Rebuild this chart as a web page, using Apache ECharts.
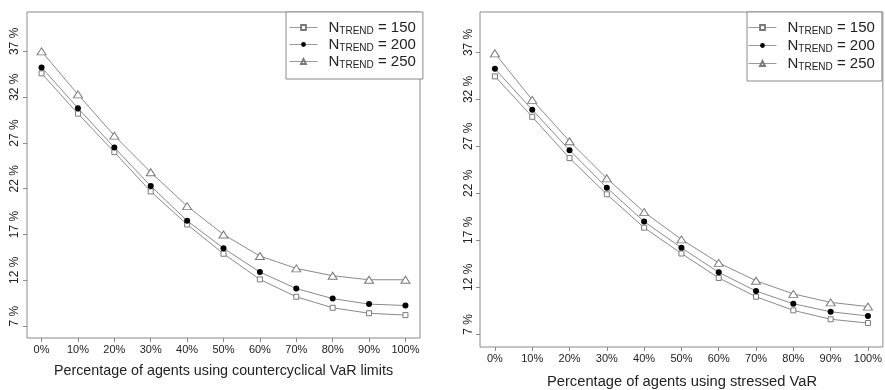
<!DOCTYPE html>
<html>
<head>
<meta charset="utf-8">
<script src="https://cdn.jsdelivr.net/npm/echarts@6/dist/echarts.min.js"></script>
<style>
  html, body { margin: 0; padding: 0; background: #fff; }
  #main { width: 885px; height: 390px; }
</style>
</head>
<body>
<div id="main"></div>
<script>
  // shares of agents (x) and tick labels
  var xPct = [0, 10, 20, 30, 40, 50, 60, 70, 80, 90, 100];
  var xTicks = [0, 10, 20, 30, 40, 50, 60, 70, 80, 90, 100];
  var yTicks = [7, 12, 17, 22, 27, 32, 37];
  var trendNames = ['150', '200', '250'];

  // left panel: countercyclical VaR limits
  var left150 = [34.6, 30.2, 26.0, 21.7, 18.1, 14.9, 12.1, 10.2, 9.0, 8.4, 8.2];
  var left200 = [35.25, 30.8, 26.5, 22.3, 18.5, 15.5, 12.9, 11.1, 10.0, 9.4, 9.25];
  var left250 = [37.0, 32.3, 27.8, 23.8, 20.1, 17.0, 14.65, 13.3, 12.5, 12.06, 12.06];

  // right panel: stressed VaR
  var right150 = [34.45, 30.15, 25.75, 21.9, 18.35, 15.6, 13.0, 11.0, 9.55, 8.6, 8.2];
  var right200 = [35.25, 30.9, 26.6, 22.6, 19.0, 16.2, 13.6, 11.6, 10.25, 9.4, 8.95];
  var right250 = [36.9, 31.95, 27.55, 23.6, 20.0, 17.1, 14.6, 12.7, 11.3, 10.4, 9.95];

  var GRAY = '#8a8a8a';
  var TXT = '#222';
  var FONT = '"Liberation Sans", Arial, sans-serif';

  function pairs(ys) {
    return xPct.map(function (x, i) { return [x, ys[i]]; });
  }

  var marks = {
    '150': {symbol: 'rect', symbolSize: 5, itemStyle: {color: '#fff', borderColor: '#7a7a7a', borderWidth: 1}},
    '200': {symbol: 'circle', symbolSize: 6, itemStyle: {color: '#000', borderColor: '#000', borderWidth: 0}},
    '250': {symbol: 'triangle', symbolSize: [9, 7], itemStyle: {color: '#fff', borderColor: '#7a7a7a', borderWidth: 1}}
  };

  function line(name, ys, idx) {
    var m = marks[name];
    return {
      name: name,
      type: 'line',
      xAxisIndex: idx,
      yAxisIndex: idx,
      data: pairs(ys),
      symbol: m.symbol,
      symbolSize: m.symbolSize,
      showSymbol: true,
      itemStyle: m.itemStyle,
      lineStyle: {color: GRAY, width: 1},
      animation: false,
      silent: true
    };
  }

  function xAxis(idx) {
    return {
      type: 'value',
      gridIndex: idx,
      min: -4,
      max: 104,
      splitLine: {show: false},
      axisLine: {show: false, onZero: false},
      axisTick: {show: true, inside: false, length: 4, lineStyle: {color: GRAY}, customValues: xTicks},
      axisLabel: {
        customValues: xTicks, margin: 6, color: TXT, fontSize: 11, fontFamily: FONT,
        formatter: function (v) { return v + '%'; }
      }
    };
  }

  function yAxis(idx, lo, hi, margin) {
    return {
      type: 'value',
      gridIndex: idx,
      min: lo,
      max: hi,
      splitLine: {show: false},
      axisLine: {show: false, onZero: false},
      axisTick: {show: true, inside: false, length: 4, lineStyle: {color: GRAY}, customValues: yTicks},
      axisLabel: {
        customValues: yTicks, rotate: 90, margin: margin, color: TXT, fontSize: 12, fontFamily: FONT,
        padding: [0, 0, 0, 20],
        formatter: function (v) { return v + ' %'; }
      }
    };
  }

  function axisTitle(text, cx, top, size) {
    return {
      text: text,
      left: cx,
      top: top,
      textAlign: 'center',
      padding: 0,
      textStyle: {color: TXT, fontSize: size, fontWeight: 'normal', fontFamily: FONT, lineHeight: 16}
    };
  }

  function legend(left, top, pad, gap) {
    return {
      data: trendNames,
      orient: 'vertical',
      left: left,
      top: top,
      padding: pad,
      itemGap: gap,
      itemWidth: 28,
      itemHeight: 6,
      backgroundColor: '#fff',
      borderColor: GRAY,
      borderWidth: 1,
      borderRadius: 0,
      selectedMode: false,
      lineStyle: {width: 1, color: '#999'},
      formatter: function (n) { return '{a|N}{b|TREND}{a| = ' + n + '}'; },
      textStyle: {
        padding: [0, 0, 0, 6],
        rich: {
          a: {fontSize: 15, lineHeight: 17, color: TXT, fontFamily: FONT},
          b: {fontSize: 10, lineHeight: 10, padding: [7, 0, 0, 0], color: TXT, fontFamily: FONT}
        }
      }
    };
  }

  var chart = echarts.init(document.getElementById('main'), null, {renderer: 'canvas'});
  chart.setOption({
    animation: false,
    backgroundColor: '#fff',
    title: [
      axisTitle('Percentage of agents using countercyclical VaR limits', 223.5, 363, 14.3),
      axisTitle('Percentage of agents using stressed VaR', 682, 373.5, 14.7)
    ],
    grid: [
      {left: 27, top: 12, width: 393, height: 326, show: true, borderColor: GRAY, borderWidth: 1, backgroundColor: 'transparent'},
      {left: 480, top: 12, width: 404, height: 335, show: true, borderColor: GRAY, borderWidth: 1, backgroundColor: 'transparent'}
    ],
    xAxis: [xAxis(0), xAxis(1)],
    yAxis: [
      yAxis(0, 5.7, 41.3, 6),
      yAxis(1, 5.65, 41.3, 5)
    ],
    legend: [
      legend(286, 12, [7, 7, 9, 3], 0),
      legend(747, 12, [7, 7, 9, 1], 1)
    ],
    series: [
      line('150', left150, 0),
      line('200', left200, 0),
      line('250', left250, 0),
      line('150', right150, 1),
      line('200', right200, 1),
      line('250', right250, 1)
    ]
  });
</script>
</body>
</html>
